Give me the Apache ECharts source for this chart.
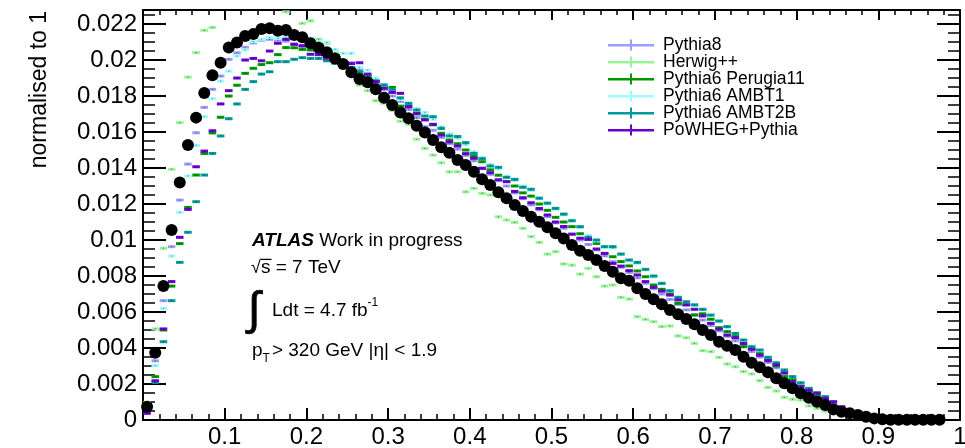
<!DOCTYPE html>
<html>
<head>
<meta charset="utf-8">
<script src="https://cdn.jsdelivr.net/npm/echarts@6/dist/echarts.min.js"></script>
<style>
  html, body { margin: 0; padding: 0; background: #fff; }
  #chart { width: 965px; height: 448px; }
</style>
</head>
<body>
<div id="chart"></div>
<script>
// Jet substructure variable, 98 bins of width 0.01 starting at 0
const BIN_START = 0;
const BIN_WIDTH = 0.01;
const N_BINS = 98;

const xTickLabels = ['0.1', '0.2', '0.3', '0.4', '0.5', '0.6', '0.7', '0.8', '0.9', '1'];
const yTickLabels = ['0', '0.002', '0.004', '0.006', '0.008', '0.01', '0.012', '0.014', '0.016', '0.018', '0.02', '0.022'];

// Measured data, normalised to unit area
const dataValues = [
  0.00074,0.00374,0.00744,0.01056,0.01320,0.01528,0.01680,0.01817,0.01915,0.01985,
  0.02069,0.02098,0.02133,0.02144,0.02172,0.02176,0.02163,0.02167,0.02139,0.02126,
  0.02093,0.02068,0.02043,0.02009,0.01978,0.01932,0.01894,0.01876,0.01837,0.01791,
  0.01750,0.01709,0.01676,0.01635,0.01597,0.01556,0.01515,0.01485,0.01444,0.01417,
  0.01379,0.01337,0.01306,0.01265,0.01232,0.01194,0.01161,0.01129,0.01102,0.01071,
  0.01037,0.01009,0.00972,0.00941,0.00917,0.00889,0.00856,0.00824,0.00787,0.00774,
  0.00732,0.00700,0.00671,0.00643,0.00611,0.00587,0.00561,0.00532,0.00500,0.00472,
  0.00435,0.00413,0.00389,0.00352,0.00318,0.00293,0.00265,0.00232,0.00204,0.00176,
  0.00148,0.00124,0.00102,0.00083,0.00059,0.00046,0.00037,0.00028,0.00018,0.00009,
  0.00004,0.00002,0.00001,0.00001,0.00001,0.00001,0.00001,0.00001
];

const pythia8 = [
  0.00070,0.00329,0.00663,0.00963,0.01222,0.01422,0.01596,0.01737,0.01837,0.01911,
  0.02004,0.02040,0.02071,0.02095,0.02110,0.02115,0.02110,0.02105,0.02090,0.02075,
  0.02060,0.02037,0.02020,0.02000,0.01982,0.01985,0.01950,0.01915,0.01870,0.01835,
  0.01800,0.01770,0.01725,0.01680,0.01630,0.01610,0.01570,0.01535,0.01505,0.01470,
  0.01440,0.01400,0.01365,0.01330,0.01300,0.01262,0.01230,0.01195,0.01168,0.01130,
  0.01095,0.01065,0.01030,0.01000,0.00975,0.00945,0.00912,0.00880,0.00848,0.00820,
  0.00790,0.00760,0.00730,0.00700,0.00670,0.00642,0.00612,0.00585,0.00555,0.00525,
  0.00495,0.00465,0.00440,0.00410,0.00380,0.00350,0.00320,0.00290,0.00258,0.00225,
  0.00190,0.00160,0.00135,0.00108,0.00085,0.00062,0.00045,0.00030,0.00018,0.00009,
  0.00004,0.00002,0.00001,0.00001,0.00001,0.00001,0.00001,0.00001
];

const herwigpp = [
  0.00098,0.00506,0.00954,0.01393,0.01652,0.01905,0.02041,0.02165,0.02181,0.02300,
  0.02330,0.02345,0.02360,0.02365,0.02350,0.02330,0.02300,0.02268,0.02290,0.02204,
  0.02218,0.02115,0.02093,0.02040,0.01990,0.01930,0.01861,0.01830,0.01774,0.01760,
  0.01720,0.01660,0.01643,0.01560,0.01509,0.01472,0.01429,0.01379,0.01379,0.01268,
  0.01287,0.01259,0.01250,0.01129,0.01111,0.01098,0.01065,0.01019,0.00987,0.00922,
  0.00935,0.00867,0.00860,0.00811,0.00843,0.00796,0.00744,0.00750,0.00681,0.00672,
  0.00574,0.00559,0.00546,0.00519,0.00522,0.00467,0.00457,0.00426,0.00385,0.00380,
  0.00348,0.00311,0.00296,0.00269,0.00256,0.00219,0.00181,0.00161,0.00126,0.00115,
  0.00111,0.00078,0.00065,0.00050,0.00038,0.00030,0.00020,0.00012,0.00008,0.00004,
  0.00002,0.00001,0.00001,0.00001,0.00001,0.00001,0.00001,0.00001
];

const pythia6Perugia11 = [
  0.00070,0.00241,0.00500,0.00744,0.00980,0.01181,0.01361,0.01481,0.01595,0.01682,
  0.01800,0.01860,0.01926,0.01954,0.01975,0.01985,0.02030,0.02069,0.02068,0.02059,
  0.02056,0.02045,0.02030,0.02005,0.01980,0.01955,0.01935,0.01910,0.01880,0.01850,
  0.01848,0.01744,0.01745,0.01700,0.01670,0.01640,0.01593,0.01556,0.01535,0.01500,
  0.01465,0.01435,0.01390,0.01360,0.01325,0.01300,0.01262,0.01244,0.01200,0.01165,
  0.01126,0.01100,0.01074,0.01035,0.01004,0.00981,0.00926,0.00907,0.00880,0.00856,
  0.00828,0.00796,0.00750,0.00726,0.00700,0.00648,0.00640,0.00583,0.00590,0.00560,
  0.00513,0.00491,0.00465,0.00407,0.00395,0.00370,0.00335,0.00300,0.00241,0.00225,
  0.00195,0.00160,0.00135,0.00110,0.00082,0.00060,0.00042,0.00028,0.00016,0.00008,
  0.00004,0.00002,0.00001,0.00001,0.00001,0.00001,0.00001,0.00001
];

const pythia6AMBT1 = [
  0.00080,0.00302,0.00620,0.00911,0.01154,0.01356,0.01526,0.01685,0.01785,0.01883,
  0.01938,0.02022,0.02056,0.02102,0.02115,0.02125,0.02120,0.02128,0.02122,0.02118,
  0.02121,0.02102,0.02098,0.02059,0.02037,0.02037,0.01960,0.01944,0.01900,0.01861,
  0.01835,0.01781,0.01762,0.01730,0.01709,0.01670,0.01630,0.01590,0.01565,0.01530,
  0.01490,0.01458,0.01420,0.01395,0.01355,0.01330,0.01300,0.01275,0.01235,0.01200,
  0.01170,0.01140,0.01110,0.01070,0.01025,0.00995,0.00960,0.00955,0.00920,0.00885,
  0.00870,0.00835,0.00795,0.00760,0.00720,0.00685,0.00655,0.00635,0.00612,0.00580,
  0.00548,0.00515,0.00480,0.00445,0.00410,0.00385,0.00350,0.00315,0.00275,0.00240,
  0.00205,0.00175,0.00150,0.00125,0.00093,0.00066,0.00046,0.00030,0.00019,0.00009,
  0.00004,0.00002,0.00001,0.00001,0.00001,0.00001,0.00001,0.00001
];

const pythia6AMBT2B = [
  0.00060,0.00209,0.00435,0.00663,0.00876,0.01043,0.01213,0.01361,0.01481,0.01578,
  0.01674,0.01756,0.01837,0.01880,0.01922,0.01935,0.01991,0.01991,0.02004,0.02013,
  0.02009,0.02009,0.01996,0.01982,0.01975,0.01958,0.01930,0.01907,0.01885,0.01862,
  0.01837,0.01790,0.01759,0.01722,0.01689,0.01685,0.01620,0.01578,0.01575,0.01541,
  0.01481,0.01452,0.01411,0.01404,0.01348,0.01337,0.01293,0.01282,0.01232,0.01205,
  0.01176,0.01144,0.01107,0.01074,0.01015,0.01000,0.00963,0.00963,0.00922,0.00889,
  0.00876,0.00837,0.00800,0.00759,0.00718,0.00681,0.00657,0.00640,0.00615,0.00583,
  0.00550,0.00519,0.00481,0.00444,0.00407,0.00389,0.00348,0.00318,0.00278,0.00241,
  0.00207,0.00176,0.00152,0.00130,0.00095,0.00068,0.00048,0.00032,0.00020,0.00010,
  0.00005,0.00002,0.00001,0.00001,0.00001,0.00001,0.00001,0.00001
];

const powhegPythia = [
  0.00037,0.00218,0.00506,0.00769,0.01015,0.01170,0.01407,0.01494,0.01607,0.01756,
  0.01830,0.01900,0.02000,0.02009,0.01996,0.02050,0.02093,0.02115,0.02087,0.02080,
  0.02032,0.02030,0.02010,0.02000,0.01985,0.01980,0.01985,0.01922,0.01880,0.01843,
  0.01820,0.01815,0.01740,0.01704,0.01667,0.01643,0.01583,0.01545,0.01522,0.01480,
  0.01454,0.01398,0.01374,0.01335,0.01324,0.01270,0.01235,0.01207,0.01175,0.01139,
  0.01100,0.01075,0.01033,0.01010,0.01004,0.00950,0.00925,0.00870,0.00855,0.00830,
  0.00806,0.00769,0.00737,0.00716,0.00694,0.00667,0.00640,0.00615,0.00578,0.00537,
  0.00505,0.00472,0.00457,0.00425,0.00393,0.00360,0.00330,0.00306,0.00262,0.00213,
  0.00185,0.00165,0.00148,0.00120,0.00102,0.00074,0.00050,0.00033,0.00020,0.00010,
  0.00005,0.00002,0.00001,0.00001,0.00001,0.00001,0.00001,0.00001
];

const mcNames = ['Pythia8', 'Herwig++', 'Pythia6 Perugia11', 'Pythia6 AMBT1', 'Pythia6 AMBT2B', 'PoWHEG+Pythia'];
const mcValues = [pythia8, herwigpp, pythia6Perugia11, pythia6AMBT1, pythia6AMBT2B, powhegPythia];
const mcColors = ['#9c9cff', '#96f596', '#009a00', '#9cffff', '#009a9a', '#6a00d0'];

const FONT = '"Liberation Sans", Arial, Helvetica, sans-serif';

// bin centres from the binning definition
const binCentres = [];
for (let i = 0; i < N_BINS; i++) binCentres.push(+(BIN_START + (i + 0.5) * BIN_WIDTH).toFixed(4));

function pairs(values) {
  return values.map((v, i) => [binCentres[i], v]);
}

// each MC bin: a horizontal bar spanning the bin, with a small marker at its centre
function binBar(color) {
  return function (params, api) {
    const xc = api.value(0), yv = api.value(1);
    const a = api.coord([xc - BIN_WIDTH / 2, yv]);
    const b = api.coord([xc + BIN_WIDTH / 2, yv]);
    const w = b[0] - a[0];
    return {
      type: 'group',
      children: [
        { type: 'rect', shape: { x: a[0] + 0.3, y: a[1] - 1.5, width: w - 0.6, height: 3 }, style: { fill: color } },
        { type: 'rect', shape: { x: a[0] + w / 2 - 0.6, y: a[1] - 0.6, width: 1.2, height: 1.2 }, style: { fill: 'rgba(0,0,0,0.45)' } }
      ]
    };
  };
}

const series = mcValues.map((vals, k) => ({
  name: mcNames[k],
  type: 'custom',
  clip: true,
  renderItem: binBar(mcColors[k]),
  data: pairs(vals),
  z: 2 + k
}));

series.push({
  name: 'Data',
  type: 'scatter',
  data: pairs(dataValues),
  symbol: 'circle',
  symbolSize: 12,
  itemStyle: { color: '#000', opacity: 1 },
  z: 20
});

// text placement helpers
const measureCtx = document.createElement('canvas').getContext('2d');
function fontString(s) {
  return (s.italic ? 'italic ' : '') + (s.bold ? 'bold ' : '') + s.size + 'px ' + FONT;
}
function textRun(x, baseline, segs) {
  const out = [];
  let cx = x;
  segs.forEach(s => {
    measureCtx.font = fontString(s);
    const w = measureCtx.measureText(s.text).width;
    const base = baseline + (s.dy || 0);
    out.push({
      type: 'text', z: 50,
      x: cx, y: base - 0.3465 * s.size,
      style: {
        text: s.text, fill: '#000', font: fontString(s),
        align: 'left', verticalAlign: 'middle'
      }
    });
    cx += w + (s.gap || 0);
  });
  return out;
}

const graphics = [];
// y-axis title
graphics.push({
  type: 'text', z: 50, x: 40, y: 11, rotation: Math.PI / 2,
  style: { text: 'normalised to 1', fill: '#000', font: '23px ' + FONT, align: 'right', verticalAlign: 'middle' }
});

// legend
const LEG_X = 608, LEG_Y = 45, LEG_DY = 17;
mcNames.forEach((name, k) => {
  const y = LEG_Y + k * LEG_DY;
  graphics.push({ type: 'rect', z: 50, shape: { x: LEG_X, y: y - 1, width: 46, height: 2.4 }, style: { fill: mcColors[k] } });
  graphics.push({ type: 'rect', z: 50, shape: { x: LEG_X + 22, y: y - 5.5, width: 2, height: 11 }, style: { fill: mcColors[k] } });
  graphics.push({
    type: 'text', z: 50, x: LEG_X + 55, y: y,
    style: { text: name, fill: '#000', font: '17.5px ' + FONT, align: 'left', verticalAlign: 'middle' }
  });
});

// annotations
graphics.push(...textRun(252, 247, [
  { text: 'ATLAS', size: 19, bold: true, italic: true },
  { text: ' Work in progress', size: 19 }
]));
graphics.push(...textRun(251, 274, [
  { text: '\u221A', size: 18 },
  { text: 's = 7 TeV', size: 19 }
]));
graphics.push({ type: 'line', z: 50, shape: { x1: 261, y1: 259.4, x2: 271.5, y2: 259.4 }, style: { stroke: '#000', lineWidth: 1.3 } });
graphics.push({
  type: 'text', z: 50, x: 248, y: 311,
  style: { text: '\u222B', fill: '#000', font: '46px ' + FONT, align: 'left', verticalAlign: 'middle', stroke: '#000', lineWidth: 0.8 }
});
graphics.push(...textRun(272, 317, [
  { text: 'Ldt = 4.7 fb', size: 19 },
  { text: '-1', size: 12, dy: -10 }
]));
graphics.push(...textRun(252, 357, [
  { text: 'p', size: 19 },
  { text: 'T', size: 12, dy: 6, gap: 2 },
  { text: '> 320 GeV |\u03B7| < 1.9', size: 19 }
]));

const axisLineStyle = { color: '#000', width: 2 };
const labelStyle = { color: '#000', fontSize: 24, fontFamily: FONT };

const option = {
  animation: false,
  backgroundColor: '#fff',
  grid: { left: 143, right: 5, top: 10, bottom: 28, outerBoundsMode: 'none', containLabel: false },
  xAxis: [
    {
      type: 'value', min: 0, max: 1, interval: 0.1, position: 'bottom',
      axisLine: { show: true, onZero: false, lineStyle: axisLineStyle },
      axisTick: { show: true, inside: true, length: 12, lineStyle: { color: '#000', width: 2 } },
      minorTick: { show: true, splitNumber: 5, length: 6, lineStyle: { color: '#000', width: 1.5 } },
      splitLine: { show: false },
      axisLabel: Object.assign({
        margin: 5, showMinLabel: false, hideOverlap: false,
        formatter: v => (v <= 0 ? '' : xTickLabels[Math.round(v * 10) - 1])
      }, labelStyle)
    },
    {
      type: 'value', min: 0, max: 1, interval: 0.1, position: 'top',
      axisLine: { show: true, onZero: false, lineStyle: axisLineStyle },
      axisTick: { show: true, inside: true, length: 10, lineStyle: { color: '#000', width: 2 } },
      minorTick: { show: true, splitNumber: 5, length: 5, lineStyle: { color: '#000', width: 1.5 } },
      splitLine: { show: false },
      axisLabel: { show: false }
    }
  ],
  yAxis: [
    {
      type: 'value', min: 0, max: 0.02278, interval: 0.002, position: 'left',
      axisLine: { show: true, onZero: false, lineStyle: axisLineStyle },
      axisTick: { show: true, inside: true, length: 23, lineStyle: { color: '#000', width: 2 } },
      minorTick: { show: true, splitNumber: 4, length: 12, lineStyle: { color: '#000', width: 1.5 } },
      splitLine: { show: false },
      axisLabel: Object.assign({
        margin: 6, showMaxLabel: false, hideOverlap: false,
        formatter: v => {
          const idx = Math.round(v / 0.002);
          return Math.abs(v - idx * 0.002) < 1e-7 && idx < yTickLabels.length ? yTickLabels[idx] : '';
        }
      }, labelStyle)
    },
    {
      type: 'value', min: 0, max: 0.02278, interval: 0.002, position: 'right',
      axisLine: { show: true, onZero: false, lineStyle: axisLineStyle },
      axisTick: { show: true, inside: true, length: 23, lineStyle: { color: '#000', width: 2 } },
      minorTick: { show: true, splitNumber: 4, length: 12, lineStyle: { color: '#000', width: 1.5 } },
      splitLine: { show: false },
      axisLabel: { show: false }
    }
  ],
  series: series,
  graphic: graphics
};

const chart = echarts.init(document.getElementById('chart'), null, { renderer: 'canvas' });
chart.setOption(option);
</script>
</body>
</html>
